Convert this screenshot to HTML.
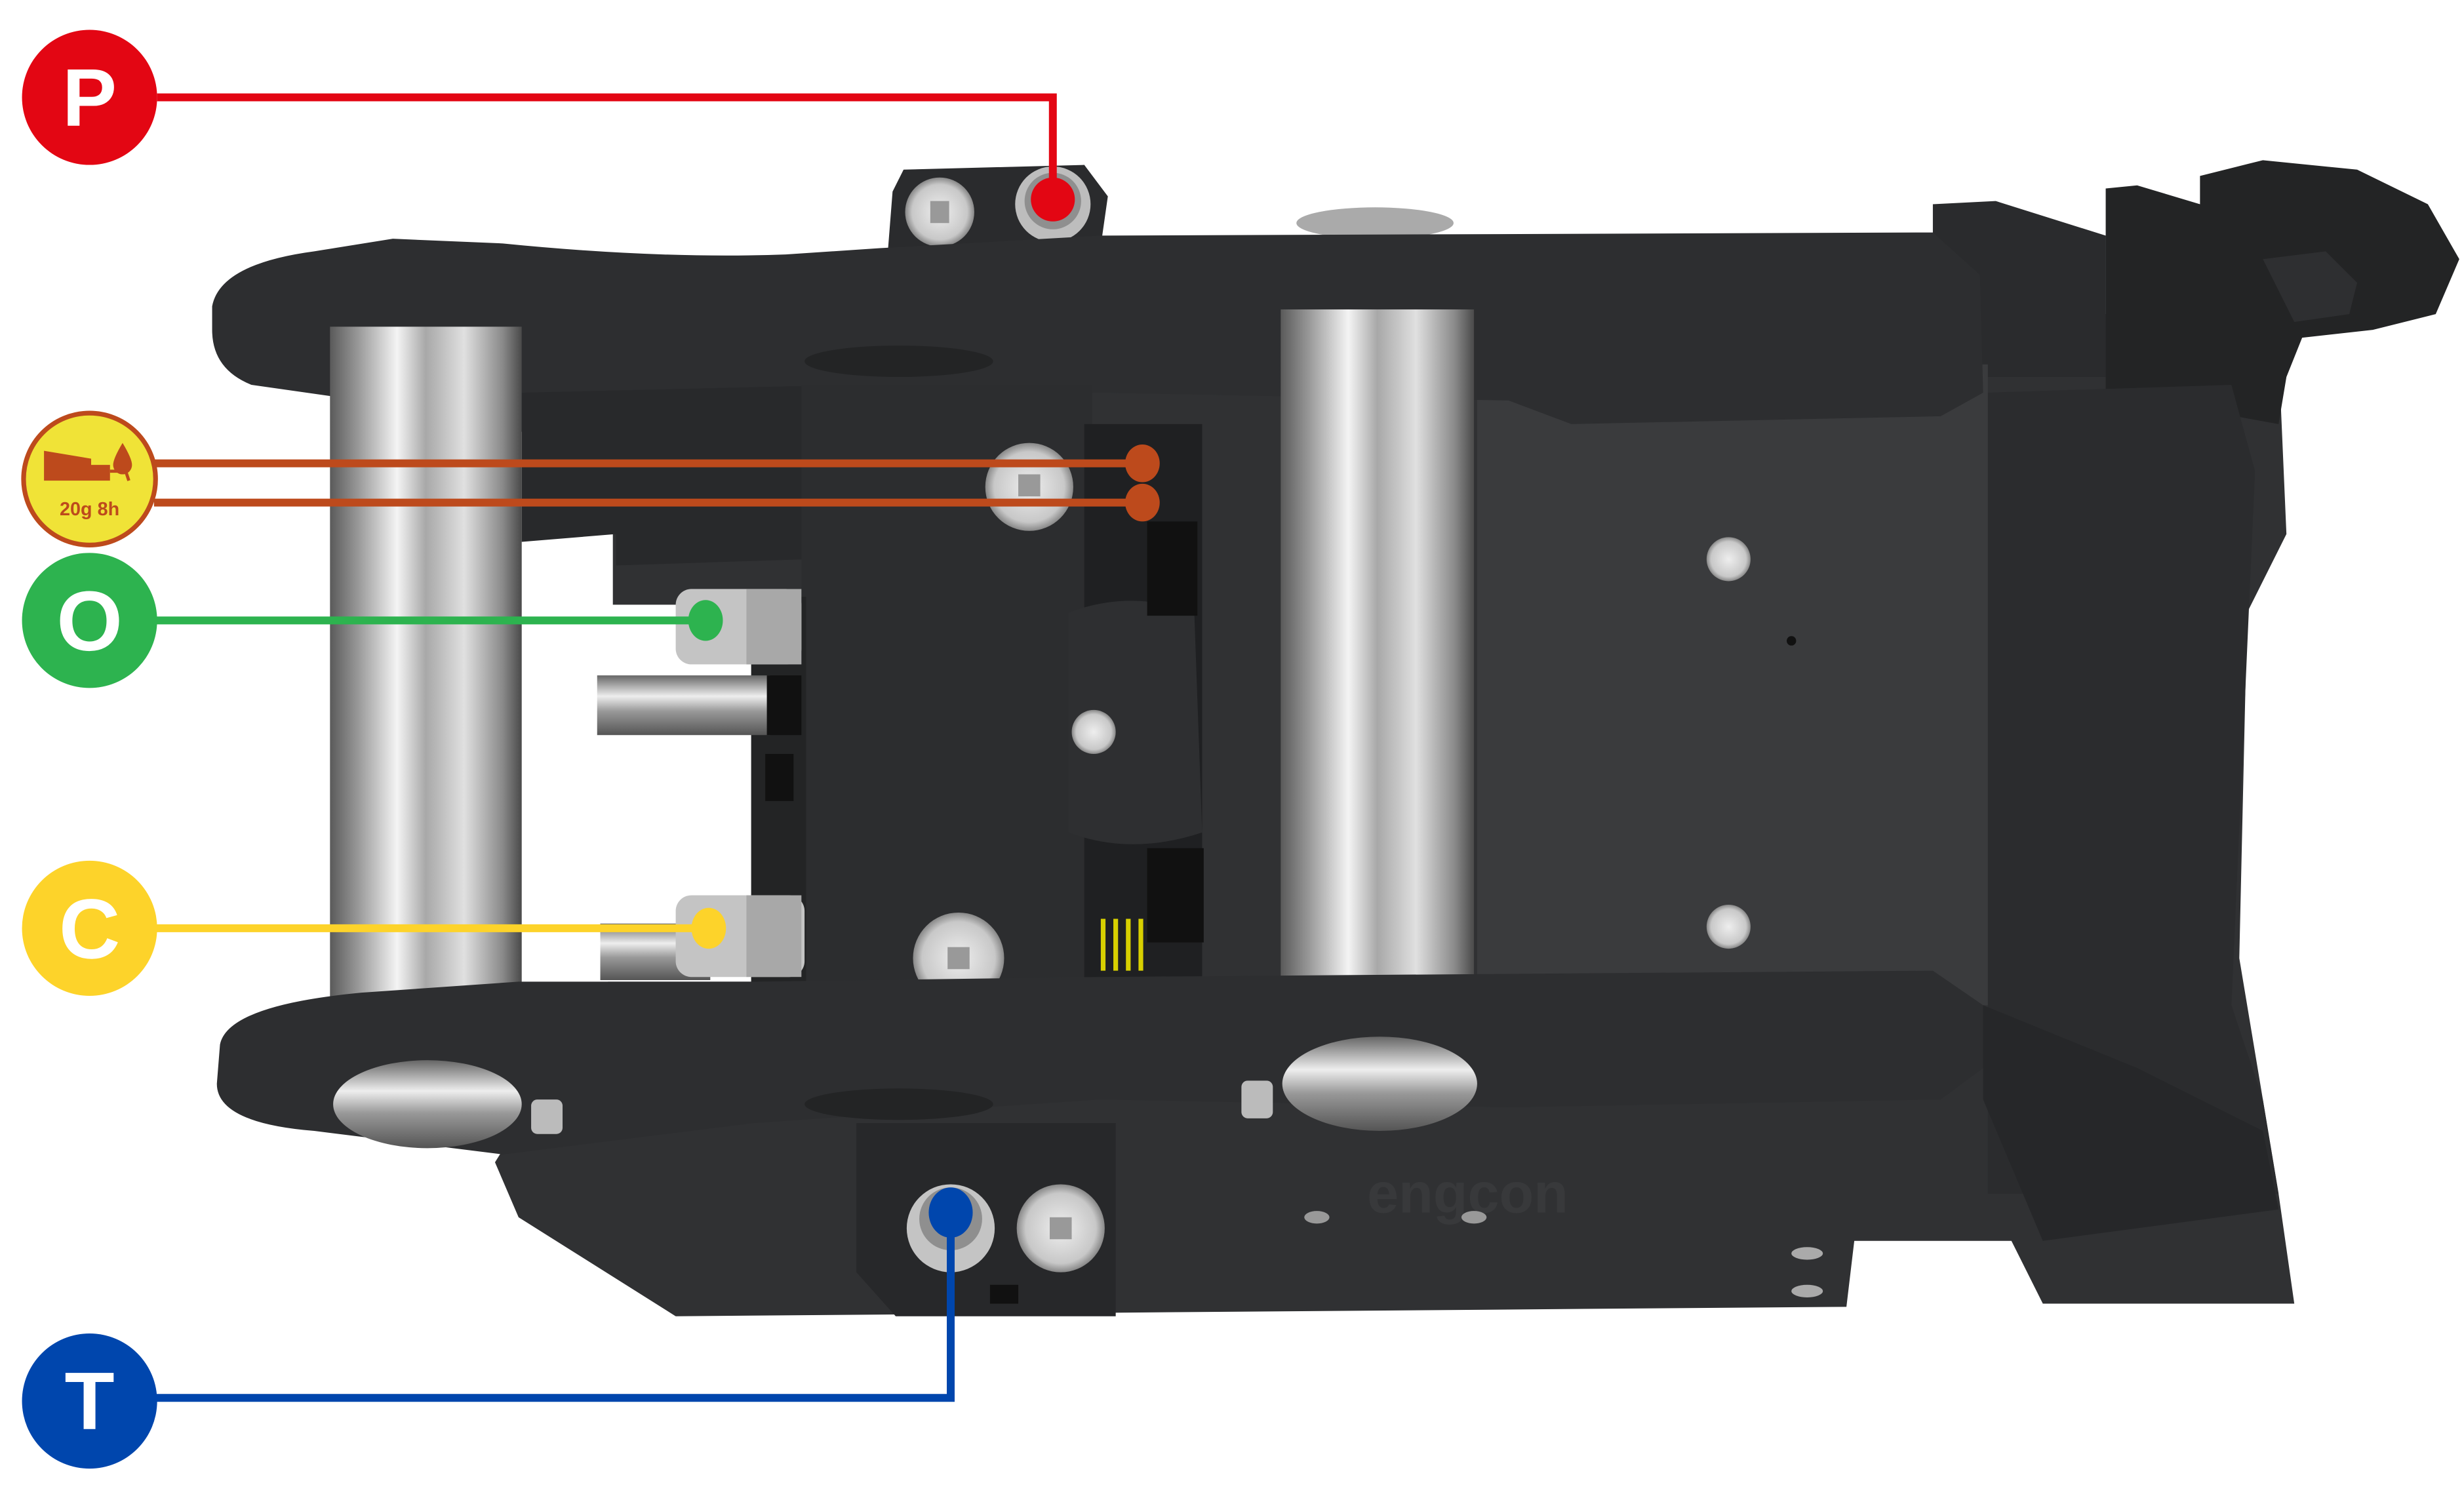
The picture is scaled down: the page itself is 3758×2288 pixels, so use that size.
<!DOCTYPE html>
<html><head><meta charset="utf-8"><style>
html,body{margin:0;padding:0;background:#fff;width:3758px;height:2288px;overflow:hidden}
svg{display:block}
</style></head><body>
<svg width="3758" height="2288" viewBox="0 0 1568 955" preserveAspectRatio="none" xmlns="http://www.w3.org/2000/svg">
<defs>
<linearGradient id="cyl" x1="0" x2="1" y1="0" y2="0">
<stop offset="0" stop-color="#5a5a5a"/><stop offset="0.15" stop-color="#9a9a9a"/><stop offset="0.35" stop-color="#f4f4f4"/><stop offset="0.5" stop-color="#a8a8a8"/><stop offset="0.7" stop-color="#e0e0e0"/><stop offset="0.9" stop-color="#8a8a8a"/><stop offset="1" stop-color="#4a4a4a"/>
</linearGradient>
<linearGradient id="cylh" x1="0" x2="0" y1="0" y2="1">
<stop offset="0" stop-color="#666"/><stop offset="0.35" stop-color="#eee"/><stop offset="0.6" stop-color="#999"/><stop offset="1" stop-color="#555"/>
</linearGradient>
<radialGradient id="bolt"><stop offset="0" stop-color="#eee"/><stop offset="0.8" stop-color="#c8c8c8"/><stop offset="1" stop-color="#888"/></radialGradient>
</defs>
<!-- main body back -->
<path d="M390,250 L1230,225 L1340,200 L1450,225 L1455,340 L1430,390 L1425,610 L1450,760 L1460,830 L1300,830 L1280,790 L1180,790 L1175,832 L430,838 L330,775 L315,740 L390,620 Z" fill="#303133"/>
<!-- right hook -->
<path d="M1340,120 L1360,118 L1400,130 L1400,112 L1440,102 L1500,108 L1545,130 L1565,165 L1550,200 L1510,210 L1465,215 L1455,240 L1450,270 L1340,250 Z" fill="#232425"/>
<path d="M1440,165 L1480,160 L1500,180 L1495,200 L1460,205 Z" fill="#2e2f31"/>
<path d="M1230,130 L1270,128 L1340,150 L1340,240 L1230,240 Z" fill="#2a2b2d"/>
<!-- right side panel -->
<path d="M1265,250 L1420,245 L1435,300 L1420,640 L1440,700 L1450,760 L1265,760 Z" fill="#2b2c2e"/>
<path d="M940,230 L1265,232 L1265,640 L940,630 Z" fill="#3a3b3d"/>
<!-- upper fitting block -->
<path d="M575,108 L690,105 L705,125 L700,160 L565,160 L568,122 Z" fill="#2a2b2d"/>
<circle cx="598" cy="135" r="22" fill="url(#bolt)"/><path d="M592,128 L604,128 L604,142 L592,142 Z" fill="#999"/>
<circle cx="670" cy="130" r="24" fill="#bdbdbd"/><circle cx="670" cy="128" r="18" fill="#8f8f8f"/>
<ellipse cx="875" cy="142" rx="50" ry="10" fill="#aaa"/>
<!-- top plate -->
<path d="M135,195 Q140,168 200,160 L250,152 L320,155 Q420,165 500,162 L560,158 L700,150 L1230,148 L1260,175 L1262,250 L1235,265 L1000,270 L960,255 L700,250 L480,252 L400,270 L330,275 L230,255 L160,245 Q135,235 135,210 Z" fill="#2d2e30"/>
<ellipse cx="572" cy="230" rx="60" ry="10" fill="#232425"/>
<!-- white cutout left -->
<rect x="332" y="385" width="150" height="240" fill="#fff"/>
<path d="M332,250 L545,245 L545,355 L392,360 L392,340 L332,345 Z" fill="#28292b"/>
<!-- center block -->
<path d="M510,245 L695,245 L695,632 L510,632 Z" fill="#2c2d2f"/>
<rect x="478" y="380" width="35" height="250" fill="#232425"/>
<rect x="487" y="480" width="18" height="30" fill="#111"/>
<rect x="690" y="270" width="75" height="360" fill="#1f2022"/>
<path d="M680,390 Q720,375 760,390 L765,530 Q720,545 680,530 Z" fill="#2e2f31"/>
<circle cx="696" cy="466" r="14" fill="url(#bolt)"/>
<rect x="730" y="332" width="32" height="60" fill="#111"/>
<rect x="730" y="540" width="36" height="60" fill="#111"/>
<g stroke="#d8d000" stroke-width="3"><line x1="702" y1="585" x2="702" y2="618"/><line x1="710" y1="585" x2="710" y2="618"/><line x1="718" y1="585" x2="718" y2="618"/><line x1="726" y1="585" x2="726" y2="618"/></g>
<circle cx="655" cy="310" r="28" fill="url(#bolt)"/><path d="M648,302 L662,302 L662,316 L648,316 Z" fill="#999"/>
<circle cx="610" cy="610" r="29" fill="url(#bolt)"/><path d="M603,603 L617,603 L617,617 L603,617 Z" fill="#999"/>
<circle cx="1100" cy="356" r="14" fill="url(#bolt)"/>
<circle cx="1100" cy="590" r="14" fill="url(#bolt)"/>
<circle cx="1140" cy="408" r="3" fill="#111"/>
<!-- fittings O and C -->
<rect x="380" y="430" width="110" height="38" fill="url(#cylh)"/><rect x="488" y="430" width="22" height="38" fill="#111"/>
<rect x="382" y="588" width="70" height="36" fill="url(#cylh)"/>
<rect x="430" y="375" width="80" height="48" rx="10" fill="#c4c4c4"/><rect x="475" y="375" width="35" height="48" fill="#a8a8a8"/>
<rect x="430" y="570" width="82" height="52" rx="10" fill="#c4c4c4"/><rect x="475" y="570" width="35" height="52" fill="#a8a8a8"/>
<!-- cylinders -->
<rect x="210" y="208" width="122" height="440" fill="url(#cyl)"/>
<rect x="815" y="197" width="123" height="425" fill="url(#cyl)"/>
<!-- lower plate -->
<path d="M140,665 Q145,640 230,632 L330,625 L480,625 L700,622 L1230,618 L1262,640 L1262,680 L1235,700 L960,705 L700,700 L480,715 L320,735 L200,720 Q138,715 138,690 Z" fill="#2d2e30"/>
<ellipse cx="572" cy="703" rx="60" ry="10" fill="#232425"/>
<path d="M1262,640 L1360,680 L1440,720 L1450,770 L1300,790 L1262,700 Z" fill="#262729"/>
<!-- bottom pins -->
<ellipse cx="272" cy="703" rx="60" ry="28" fill="url(#cylh)"/>
<ellipse cx="878" cy="690" rx="62" ry="30" fill="url(#cylh)"/>
<rect x="338" y="700" width="20" height="22" rx="4" fill="#bbb"/>
<rect x="790" y="688" width="20" height="24" rx="4" fill="#bbb"/>
<!-- lower fitting block -->
<path d="M545,715 L710,715 L710,838 L570,838 L545,810 Z" fill="#27282a"/>
<circle cx="605" cy="782" r="28" fill="#c4c4c4"/><circle cx="605" cy="776" r="20" fill="#8f8f8f"/>
<circle cx="675" cy="782" r="28" fill="url(#bolt)"/><path d="M668,775 L682,775 L682,789 L668,789 Z" fill="#999"/>
<rect x="630" y="818" width="18" height="12" fill="#111"/>
<text x="870" y="772" font-family="Liberation Sans, sans-serif" font-weight="bold" font-size="36" fill="#38393b">engcon</text>
<ellipse cx="838" cy="775" rx="8" ry="4" fill="#999"/><ellipse cx="938" cy="775" rx="8" ry="4" fill="#999"/>
<ellipse cx="1150" cy="798" rx="10" ry="4" fill="#aaa"/><ellipse cx="1150" cy="822" rx="10" ry="4" fill="#aaa"/>
<!-- connectors -->
<g fill="none" stroke-width="5">
<polyline points="100,62 670,62 670,127" stroke="#e30613"/>
<line x1="98" y1="295" x2="727" y2="295" stroke="#bd4a1c"/>
<line x1="98" y1="320" x2="727" y2="320" stroke="#bd4a1c"/>
<line x1="98" y1="395" x2="448" y2="395" stroke="#2db34f"/>
<line x1="98" y1="591" x2="450" y2="591" stroke="#fdd32a"/>
<polyline points="98,890 605,890 605,772" stroke="#0046ad"/>
</g>
<circle cx="670" cy="127" r="14" fill="#e30613"/>
<ellipse cx="727" cy="295" rx="11" ry="12" fill="#bd4a1c"/>
<ellipse cx="727" cy="320" rx="11" ry="12" fill="#bd4a1c"/>
<ellipse cx="449" cy="395" rx="11" ry="13" fill="#2db34f"/>
<ellipse cx="451" cy="591" rx="11" ry="13" fill="#fdd32a"/>
<ellipse cx="605" cy="772" rx="14" ry="16" fill="#0046ad"/>
<!-- label circles -->
<circle cx="57" cy="62" r="43" fill="#e30613"/>
<text x="57" y="80" text-anchor="middle" font-family="Liberation Sans, sans-serif" font-weight="bold" font-size="52" fill="#fff">P</text>
<circle cx="57" cy="305" r="42" fill="#f0e337" stroke="#bd4a1c" stroke-width="3"/>
<path d="M28,287 L58,292 L58,296 L70,296 L70,306 L28,306 Z" fill="#bd4a1c"/>
<path d="M78,282 Q84,292 84,296 A6,6 0 0 1 72,296 Q72,292 78,282 Z" fill="#bd4a1c"/>
<path d="M70,300 L80,300 L82,306" fill="none" stroke="#bd4a1c" stroke-width="2"/>
<text x="57" y="328" text-anchor="middle" font-family="Liberation Sans, sans-serif" font-weight="bold" font-size="12" fill="#bd4a1c">20g  8h</text>
<circle cx="57" cy="395" r="43" fill="#2db34f"/>
<text x="57" y="414" text-anchor="middle" font-family="Liberation Sans, sans-serif" font-weight="bold" font-size="54" fill="#fff">O</text>
<circle cx="57" cy="591" r="43" fill="#fdd32a"/>
<text x="57" y="610" text-anchor="middle" font-family="Liberation Sans, sans-serif" font-weight="bold" font-size="54" fill="#fff">C</text>
<circle cx="57" cy="892" r="43" fill="#0046ad"/>
<text x="57" y="910" text-anchor="middle" font-family="Liberation Sans, sans-serif" font-weight="bold" font-size="52" fill="#fff">T</text>
</svg>
</body></html>
